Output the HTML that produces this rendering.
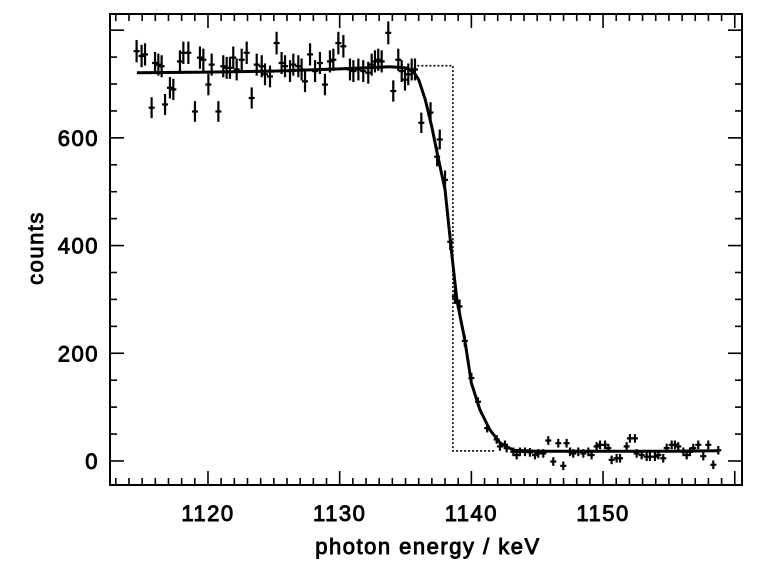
<!DOCTYPE html>
<html><head><meta charset="utf-8"><style>
html,body{margin:0;padding:0;background:#fff;}
svg{display:block;font-family:"Liberation Sans",sans-serif;}
</style></head><body>
<svg id="chart" width="763" height="564" viewBox="0 0 763 564" xmlns="http://www.w3.org/2000/svg"></svg>
<script>
const xTicks=[1120,1130,1140,1150];
const yTicks=[0,200,400,600];
const dataX=[1114.58,1114.96,1115.22,1115.72,1115.98,1116.23,1116.48,1116.74,1117.11,1117.37,1117.87,1118.13,1118.51,1119.01,1119.39,1119.65,1120.03,1120.28,1120.79,1121.16,1121.42,1121.67,1121.92,1122.18,1122.56,1122.94,1123.32,1123.7,1124.08,1124.33,1124.71,1125.21,1125.59,1125.85,1126.23,1126.48,1126.86,1127.11,1127.37,1127.75,1128.13,1128.5,1128.88,1129.26,1129.52,1129.9,1130.28,1130.78,1131.04,1131.42,1131.79,1132.17,1132.43,1132.68,1132.93,1133.19,1133.69,1134.07,1134.45,1134.71,1134.96,1135.21,1135.47,1135.72,
1136.2,1136.9,1137.4,1137.6,1138.0,1138.4,1138.75,1139.1,1139.5,1140.0,1140.5,1141.2,
1141.92,1142.17,1142.55,1142.68,1143.19,1143.44,1143.69,1144.07,1144.45,1144.83,1145.08,1145.46,1145.84,1146.22,1146.6,1146.98,1147.23,1147.49,1147.74,1148.12,1148.5,1148.88,1149.13,1149.51,1149.77,1150.15,1150.4,1150.65,1151.03,1151.29,1151.79,1152.04,1152.42,1152.55,1152.93,1153.31,1153.56,1153.94,1154.2,1154.57,1154.83,1155.21,1155.46,1155.71,1156.1,1156.35,1156.6,1156.85,1157.23,1157.61,1157.99,1158.37,1158.75];
const dataY=[761,752,755,656,739,736,733,662,693,690,742,758,758,649,749,745,699,736,649,733,730,730,749,727,745,758,674,736,733,718,714,776,739,733,724,736,733,727,705,755,724,739,699,742,745,776,770,727,724,727,724,721,736,742,745,742,795,687,745,724,708,718,727,727,
628,647,565,597,522,407,305,287,223,154,110,61,
40,27,30,24,17,11,17,17,16,11,14,14,38,-1,33,-9,33,17,14,17,14,17,11,27,30,30,24,2,5,5,27,42,42,14,11,8,8,8,11,5,24,30,30,27,17,11,17,24,30,9,30,-7,20];
const fitX=[1114.6,1120,1125,1130,1133.8,1135,1135.6,1136,1136.5,1137,1137.4,1138,1138.5,1138.9,1139.5,1140,1140.65,1141.4,1142.2,1143.2,1145,1150,1155,1158.8];
const fitY=[721,722,724,728,732,730,723,708,671,620,572,504,387,299,225,145,95,58,33,20,18,18,18,19];
const stepX=[1135.9,1138.6,1138.6,1141.8];
const stepY=[734,734,18.6,18.6];

const L=110,R=742,T=14,B=485;
const xMin=1112.56,xMax=1160.55,yMin=-44.6,yMax=830;
const sx=v=>L+(v-xMin)/(xMax-xMin)*(R-L);
const sy=v=>B-(v-yMin)/(yMax-yMin)*(B-T);
const svg=document.getElementById('chart');
const NS='http://www.w3.org/2000/svg';
function mk(tag,attrs,parent){const e=document.createElementNS(NS,tag);for(const k in attrs)e.setAttribute(k,attrs[k]);(parent||svg).appendChild(e);return e;}

const frame=mk('rect',{x:L,y:T,width:R-L,height:B-T,fill:'none',stroke:'#000','stroke-width':2});



const tg=mk('g',{stroke:'#000','stroke-width':1.6});


for(let v=1113;v<=1160;v++){
  const x=sx(v);const major=v%10===0;const len=major?14:7;
  mk('line',{x1:x,y1:B,x2:x,y2:B-len},tg);
  mk('line',{x1:x,y1:T,x2:x,y2:T+len},tg);
}
for(let v=0;v<=800;v+=50){
  const y=sy(v);const major=v%200===0;const len=major?14:7;
  mk('line',{x1:L,y1:y,x2:L+len,y2:y},tg);
  mk('line',{x1:R,y1:y,x2:R-len,y2:y},tg);
}
const fontAttrs={'font-size':22,fill:'#000',stroke:'#000','stroke-width':0.9,'letter-spacing':'1.5'};
xTicks.forEach(v=>{
  const t=mk('text',Object.assign({x:sx(v),y:521,'text-anchor':'middle'},fontAttrs));
  t.textContent=v;
  
  
});
yTicks.forEach(v=>{
  const t=mk('text',Object.assign({x:99,y:sy(v)+8,'text-anchor':'end'},fontAttrs));
  t.textContent=v;
  
  
});
const xt=mk('text',Object.assign({x:428,y:554,'text-anchor':'middle'},fontAttrs));
xt.textContent='photon energy / keV';


const yt=mk('text',Object.assign({x:0,y:0,'text-anchor':'middle',transform:'translate(43,248) rotate(-90)'},fontAttrs));
yt.textContent='counts';



const st=mk('polyline',{points:stepX.map((x,i)=>sx(x)+','+sy(stepY[i])).join(' '),fill:'none',stroke:'#000','stroke-width':1.6,'stroke-dasharray':'2,2'});



const dg=mk('g',{stroke:'#000','stroke-width':2.2});


dataX.forEach((xv,i)=>{
  const yv=dataY[i];const err=Math.max(8,Math.sqrt(Math.abs(yv)+10)*0.75);
  const x=sx(xv),y=sy(yv);
  const g=mk('g',{},dg);
  
  
  mk('line',{x1:x,y1:sy(yv+err),x2:x,y2:sy(yv-err)},g);
  mk('line',{x1:x-3,y1:y,x2:x+3,y2:y},g);
});

const fl=mk('polyline',{points:fitX.map((x,i)=>sx(x)+','+sy(fitY[i])).join(' '),fill:'none',stroke:'#000','stroke-width':3,'stroke-linejoin':'round'});


</script>
</body></html>
